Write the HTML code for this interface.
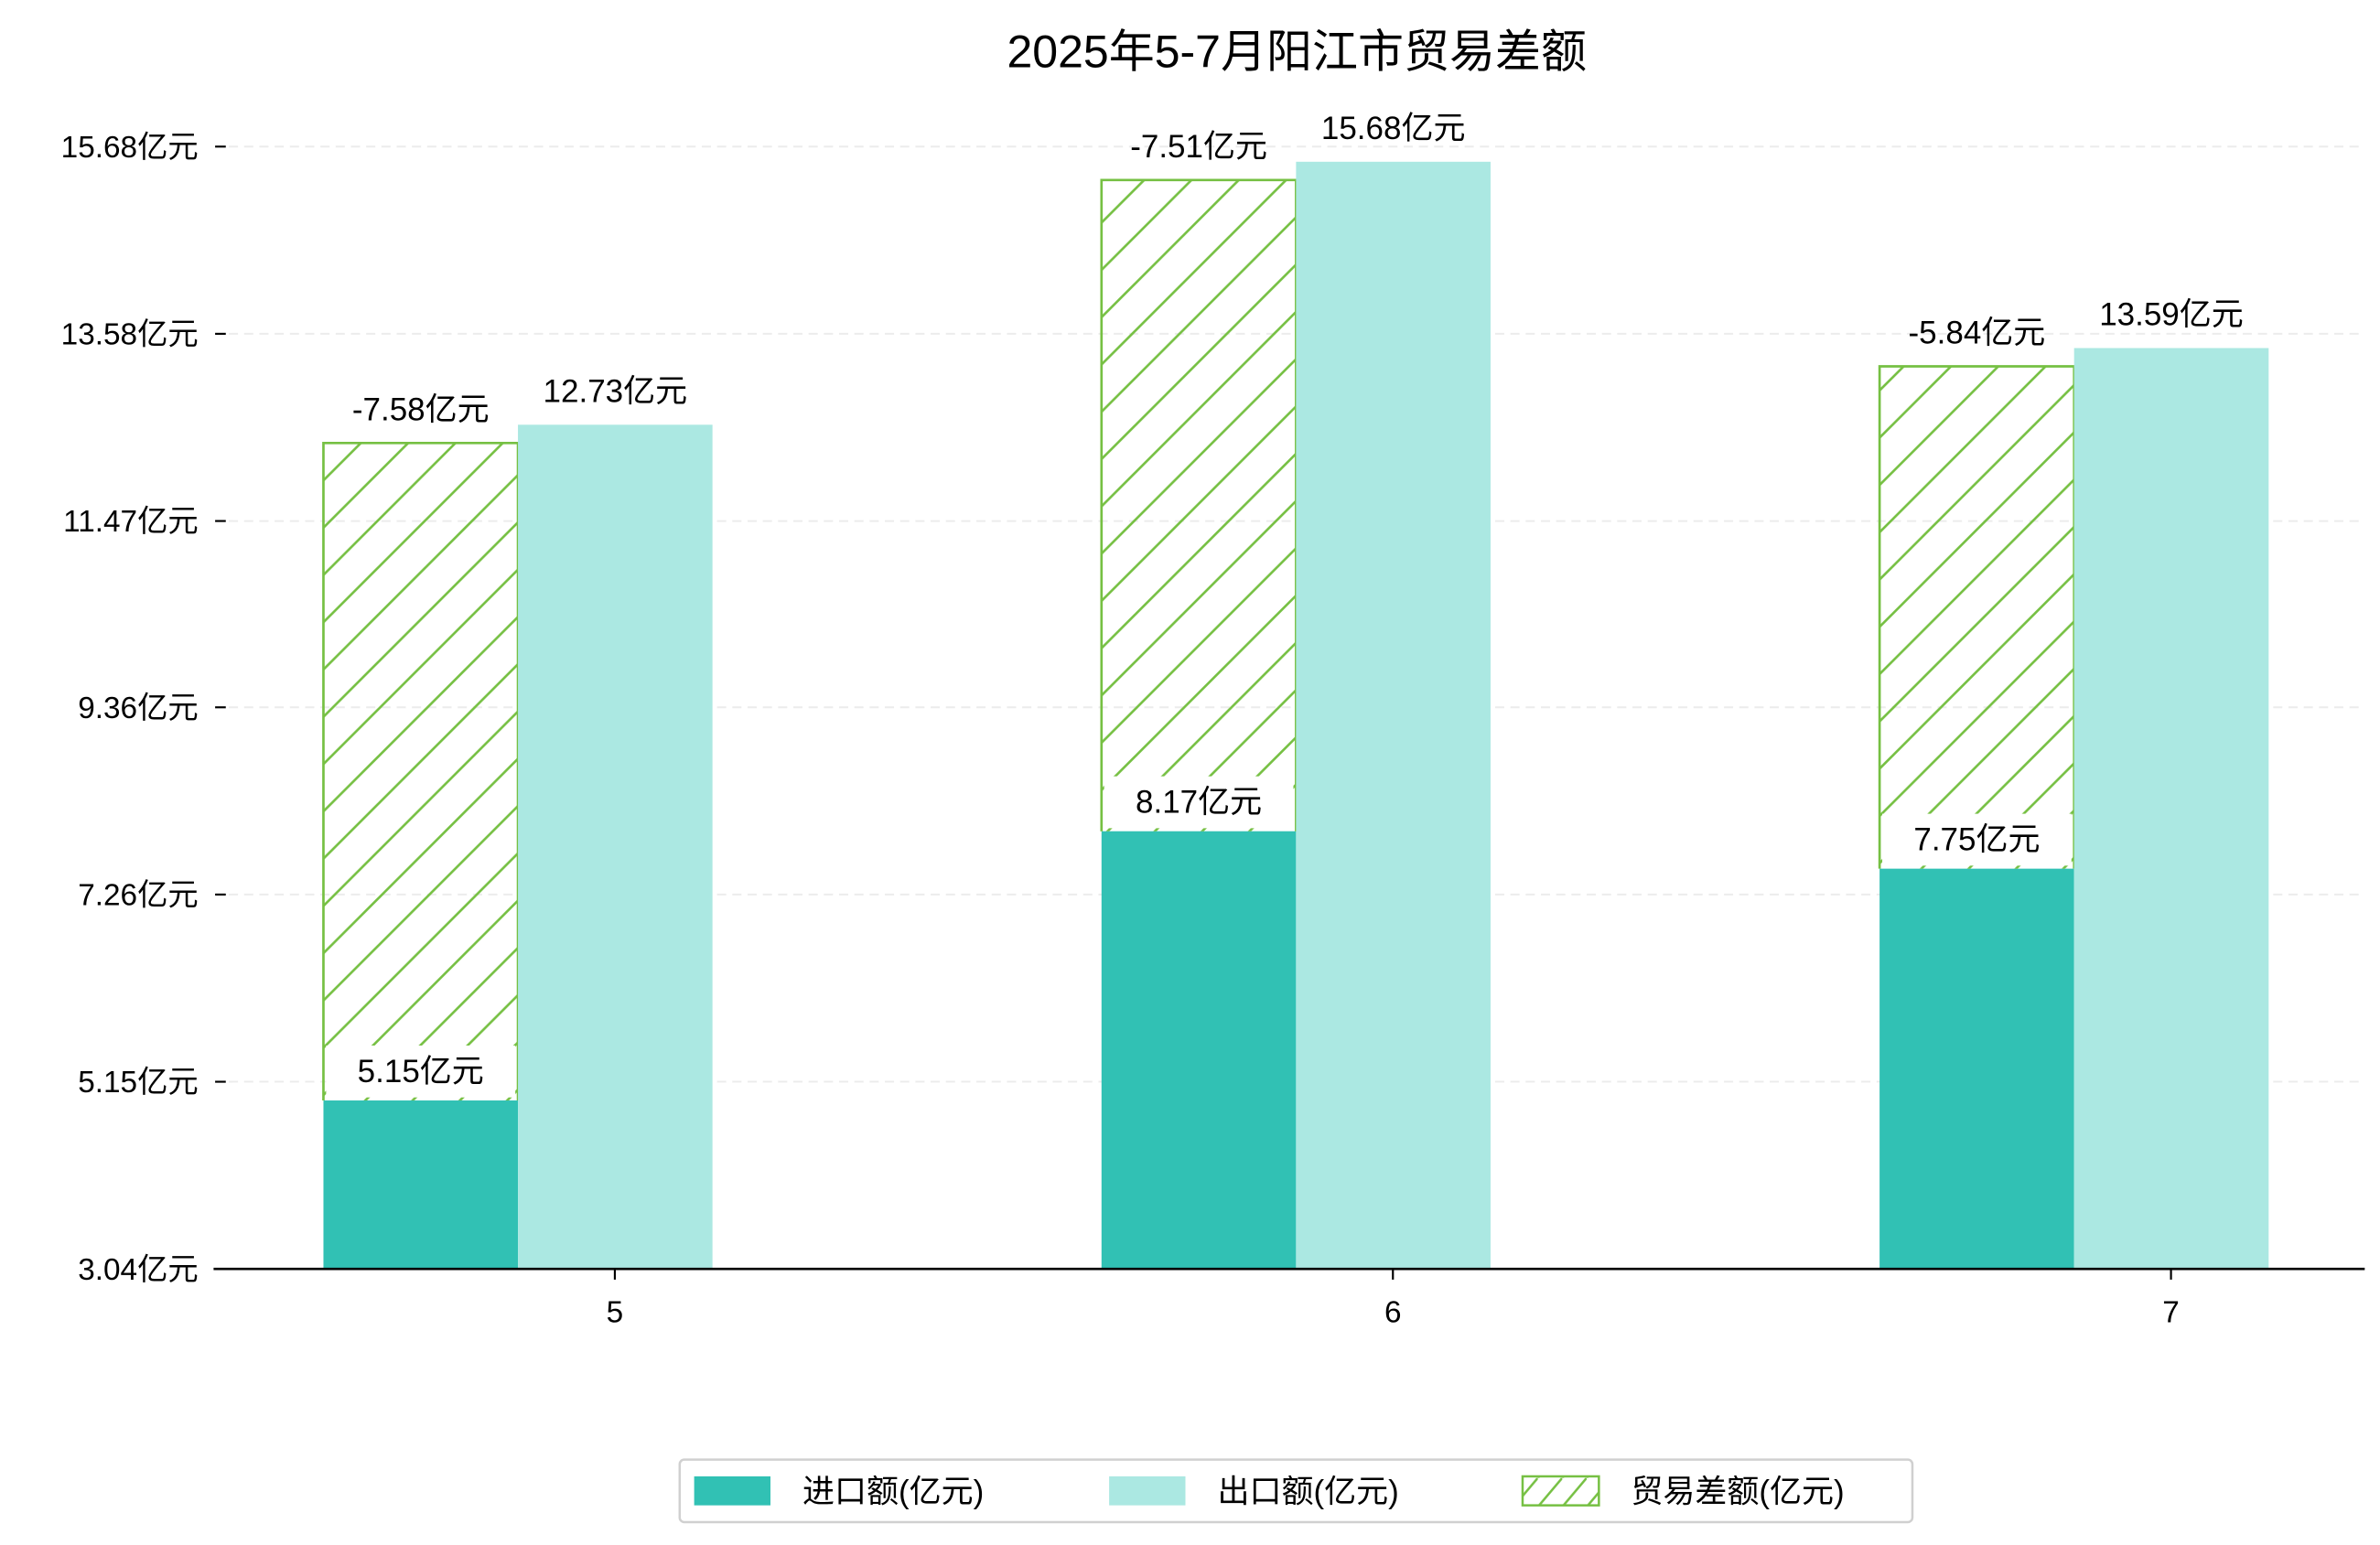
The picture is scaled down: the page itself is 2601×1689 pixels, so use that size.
<!DOCTYPE html>
<html><head><meta charset="utf-8"><style>
html,body{margin:0;padding:0;background:#fff;}
svg{display:block;font-family:"Liberation Sans","Noto Sans CJK SC","WenQuanYi Zen Hei",sans-serif;}
</style></head><body>
<svg id="chart" width="2601" height="1689" viewBox="0 0 1560 1013" preserveAspectRatio="none" xmlns="http://www.w3.org/2000/svg">
<defs>
<pattern id="hatch" patternUnits="userSpaceOnUse" width="31" height="31">
<line x1="-2" y1="33" x2="33" y2="-2" stroke="#76c043" stroke-width="1.6"/>
<line x1="-17" y1="17" x2="17" y2="-17" stroke="#76c043" stroke-width="1.6"/>
<line x1="14" y1="48" x2="48" y2="14" stroke="#76c043" stroke-width="1.6"/>
</pattern>
<pattern id="hatchLegend" patternUnits="userSpaceOnUse" width="16" height="19">
<line x1="0" y1="19" x2="16" y2="0" stroke="#76c043" stroke-width="1.5"/>
</pattern>
</defs>
<text x="850" y="44" text-anchor="middle" font-size="30" fill="#000">2025年5-7月阳江市贸易差额</text>
<g id="grid"></g><g id="bars"></g><g id="labels"></g><g id="axes"></g>
<g>
<rect x="445.5" y="957" width="808" height="41" rx="3" fill="#fff" stroke="#d0d0d0" stroke-width="1.5"/>
<rect x="455" y="968" width="50" height="19" fill="#31c1b4"/>
<text x="526" y="985" font-size="21">进口额(亿元)</text>
<rect x="727" y="968" width="50" height="19" fill="#abe8e2"/>
<text x="798" y="985" font-size="21">出口额(亿元)</text>
<rect x="998" y="968" width="50" height="19" fill="url(#hatchLegend)" stroke="#76c043" stroke-width="1.5"/>
<text x="1069" y="985" font-size="21">贸易差额(亿元)</text>
</g>
</svg>
<script>
const categories = ["5", "6", "7"];
const importVals = [5.15, 8.17, 7.75];
const exportVals = [12.73, 15.68, 13.59];
const balanceVals = [-7.58, -7.51, -5.84];
const tickVals = [3.26, 5.36, 7.46, 9.56, 11.65, 13.75, 15.85];
const tickLabels = ["3.04亿元", "5.15亿元", "7.26亿元", "9.36亿元", "11.47亿元", "13.58亿元", "15.68亿元"];

const NS = "http://www.w3.org/2000/svg";
const y0 = 832, yDomMin = 3.26, pxPerUnit = 58.45;
function yScale(v){ return y0 - (v - yDomMin) * pxPerUnit; }
const xStart = 403, xStep = 510, bw = 127.5;
function xScale(i){ return xStart + i * xStep; }
function mk(tag, attrs, parent){ const e = document.createElementNS(NS, tag); for (const k in attrs) e.setAttribute(k, attrs[k]); parent.appendChild(e); return e; }
const grid = document.getElementById("grid"), bars = document.getElementById("bars"), labels = document.getElementById("labels"), axes = document.getElementById("axes");

tickVals.forEach((v, i) => {
  const y = yScale(v);
  const g = mk("line", {x1: 150, x2: 1550, y1: y, y2: y, stroke: "#ececec", "stroke-width": 1.2, "stroke-dasharray": "6,4"}, grid);
  
  
  const t = mk("line", {x1: 141, x2: 148, y1: y, y2: y, stroke: "#000", "stroke-width": 1.3}, axes);
  
  
  const l = mk("text", {x: 130, y: y + 7, "text-anchor": "end", "font-size": 20, fill: "#000"}, axes);
  l.textContent = tickLabels[i];
  
  
});
const ax = mk("line", {x1: 140, x2: 1550, y1: y0, y2: y0, stroke: "#000", "stroke-width": 1.6}, axes);



function label(txt, cx, cy, box, name){
  if (box){
    const r = mk("rect", {x: cx - 62, y: cy - 17, width: 124, height: 34, fill: "#fff"}, labels);
    
    
  }
  const t = mk("text", {x: cx, y: cy + 7, "text-anchor": "middle", "font-size": 21, fill: "#000"}, labels);
  t.textContent = txt;
  
  
}

categories.forEach((c, i) => {
  const xc = xScale(i);
  const ix = xc - bw - 63.5, ex = xc - 63.5;
  const yi = yScale(importVals[i]);
  const ye = yScale(exportVals[i]);
  const yb = yScale(importVals[i] + Math.abs(balanceVals[i])) + 12;
  const b1 = mk("rect", {x: ix, y: yi, width: bw, height: y0 - yi, fill: "#31c1b4"}, bars);
  
  
  const h = Math.max(0, yi - yb);
  const b3 = mk("rect", {x: ix, y: yb, width: bw, height: h, fill: "url(#hatch)"}, bars);
  
  
  const ol = mk("path", {d: `M${ix},${yi}V${yb}H${ix + bw}V${yi}`, fill: "none", stroke: "#76c043", "stroke-width": 1.6}, bars);
  
  
  const b2 = mk("rect", {x: ex, y: ye, width: bw, height: y0 - ye, fill: "#abe8e2"}, bars);
  
  
  label(importVals[i].toFixed(2) + "亿元", ix + bw/2, yi - 19, true, 'import-value-label');
  label(exportVals[i].toFixed(2) + "亿元", ex + bw/2, ye - 22, false, 'export-value-label');
  label(balanceVals[i].toFixed(2) + "亿元", ix + bw/2, yb - 22, false, 'balance-value-label');
  const tk = mk("line", {x1: xc, x2: xc, y1: y0, y2: y0 + 7, stroke: "#000", "stroke-width": 1.3}, axes);
  
  
  const tl = mk("text", {x: xc, y: 867, "text-anchor": "middle", "font-size": 20, fill: "#000"}, axes);
  tl.textContent = c;
  
  
});
</script>
</body></html>
